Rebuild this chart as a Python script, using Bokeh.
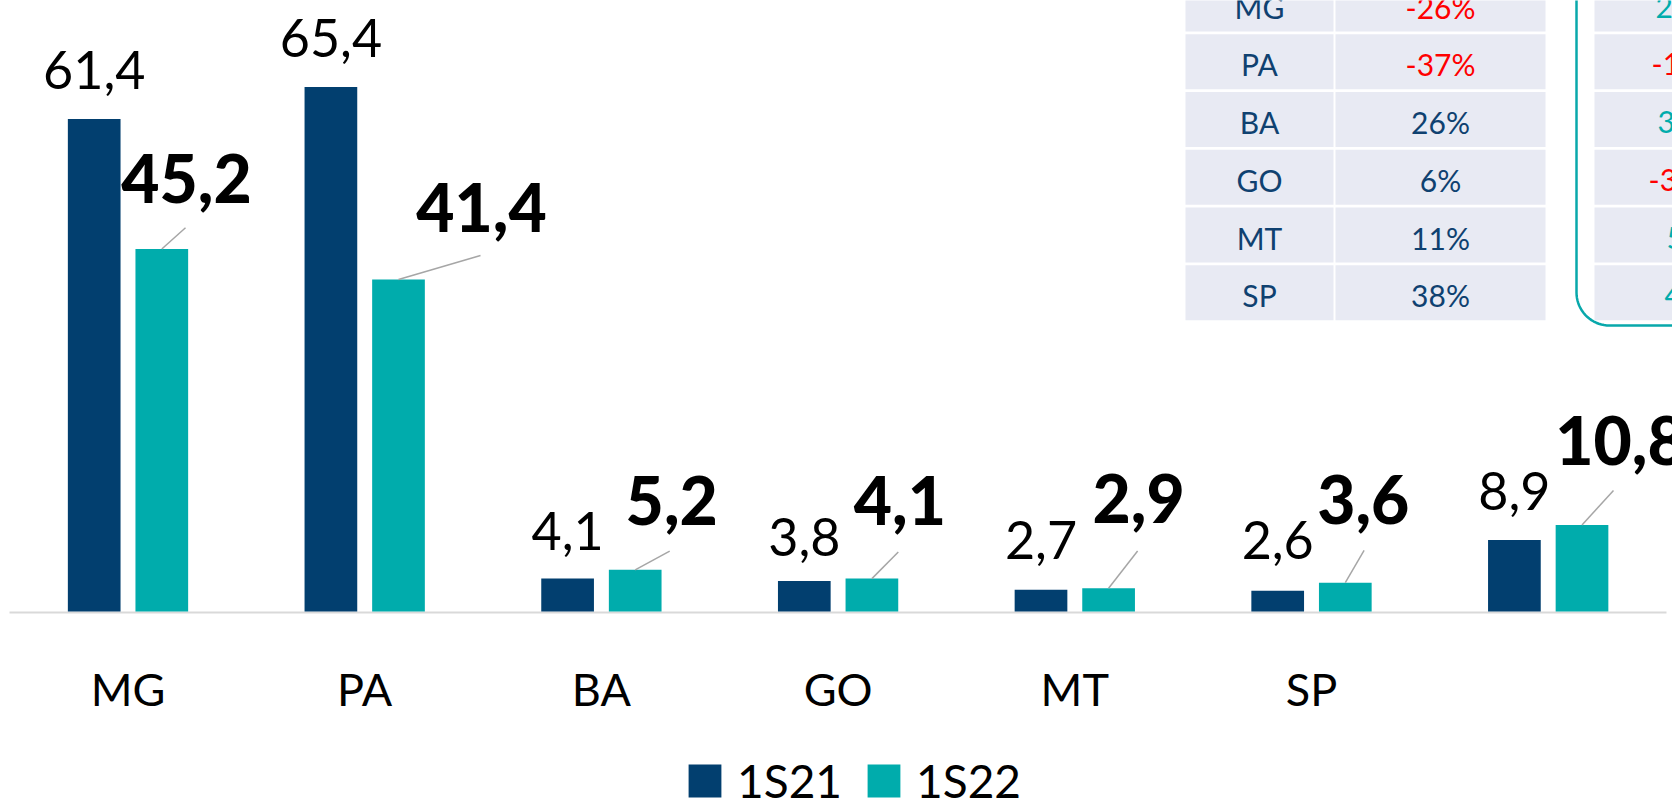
import numpy as np
from bokeh.plotting import figure
from bokeh.models import Range1d, ColumnDataSource, Legend, LegendItem
from bokeh.core.properties import value
from bokeh.embed import file_html
from bokeh.resources import INLINE

# ---------------- data ----------------
categories = ["MG", "PA", "BA", "GO", "MT", "SP", ""]
series_names = ["1S21", "1S22"]
s1 = [61.4, 65.4, 4.1, 3.8, 2.7, 2.6, 8.9]
s2 = [45.2, 41.4, 5.2, 4.1, 2.9, 3.6, 10.8]
tbl_states = ["MG", "PA", "BA", "GO", "MT", "SP"]
tbl_var = ["-26%", "-37%", "26%", "6%", "11%", "38%"]
tbl2_var = ["2", "-1", "3", "-3", "5", "4"]  # only the leading characters are visible

# ---------------- styles / layout ----------------
FONT = "Lato"
BOLD_FONT = "Lato Black, Lato"
C1 = "#023f6f"
C2 = "#00acac"
NAVY_TXT = "#0f4170"
RED = "#ff0000"
CELL = "#e8eaf3"
W, H = 1672, 799
GP = 236.7        # px per category
X0 = 127.5        # page x of first category centre
Y0 = 611.0        # page y of value 0
PPU = 8.02        # px per unit
BAR_W = 0.2226
OFF = 0.1428
BL = 0.36         # baseline correction (fraction of font size)

SZ_REG, SZ_BOLD, SZ_CAT, SZ_TBL = 52, 66, 45, 30

dark_up = [30, 30.7, 29, 25.3, 31, 31.7, 30]
lab_dx = [24.7, 83, 36.5, 28, 30, 18, 38.5]
lab_up = [46.3, 48, 45.7, 54.3, 65.7, 59, 60.3]
lead_dx = [23.7, 82, 34.5, 26.4, 29, 18.8, 31.5]
lead_up = [21.3, 24, 18.7, 26.7, 37.3, 32.3, 34.3]

p = figure(width=W, height=H,
           x_range=Range1d((0 - X0) / GP, (W - X0) / GP),
           y_range=Range1d((Y0 - H) / PPU, (Y0 - 0) / PPU),
           output_backend="svg", toolbar_location=None, min_border=0,
           x_axis_location=None, y_axis_location=None,
           outline_line_color=None)
p.grid.visible = False
p.extra_x_ranges = {"px": Range1d(0, W)}
p.extra_y_ranges = {"px": Range1d(H, 0)}

idx = np.arange(len(categories))
x1 = idx - OFF
x2 = idx + OFF
fmt = lambda v: f"{v:.1f}".replace(".", ",")

src = ColumnDataSource(dict(
    x1=x1, x2=x2, s1=s1, s2=s2,
    l1=[fmt(v) for v in s1], l2=[fmt(v) for v in s2],
    d1=[-u - BL * SZ_REG for u in dark_up],
    ldx=lab_dx, lup=[-u - BL * SZ_BOLD for u in lab_up],
    ex=x2 + np.array(lead_dx) / GP, ey=np.array(s2) + np.array(lead_up) / PPU,
))

# axis baseline
p.segment(x0=[9], y0=[612], x1=[1666], y1=[612], x_range_name="px", y_range_name="px",
          line_color="#d9d9d9", line_width=2)

r1 = p.vbar(x="x1", top="s1", bottom=0, width=BAR_W, source=src, fill_color=C1, line_color=None)
r2 = p.vbar(x="x2", top="s2", bottom=0, width=BAR_W, source=src, fill_color=C2, line_color=None)

# leader lines
p.segment(x0="x2", y0="s2", x1="ex", y1="ey", source=src, line_color="#a6a6a6", line_width=1.5)

# value labels
p.text(x="x1", y="s1", text="l1", y_offset="d1", source=src, text_align="center",
       text_baseline="alphabetic", text_font=value(FONT), text_font_size=f"{SZ_REG}px",
       text_color="black")
p.text(x="x2", y="s2", text="l2", x_offset="ldx", y_offset="lup", source=src, text_align="center",
       text_baseline="alphabetic", text_font=value(BOLD_FONT), text_font_size=f"{SZ_BOLD}px",
       text_font_style="bold", text_color="black")

# category labels
p.text(x=list(idx), y=[705 - BL * SZ_CAT] * len(idx), text=categories, y_range_name="px",
       text_align="center", text_baseline="alphabetic", text_font=value(FONT),
       text_font_size=f"{SZ_CAT}px", text_color="black")

# ---------------- table ----------------
row_top = [-24 + 57.75 * i for i in range(len(tbl_states))]
row_bot = [t + 55 for t in row_top]
p.quad(left=[1185] * 6, right=[1333] * 6, top=row_top, bottom=row_bot,
       x_range_name="px", y_range_name="px", fill_color=CELL, line_color=None)
p.quad(left=[1335] * 6, right=[1545] * 6, top=row_top, bottom=row_bot,
       x_range_name="px", y_range_name="px", fill_color=CELL, line_color=None)
p.quad(left=[1594] * 6, right=[1680] * 6, top=row_top, bottom=row_bot,
       x_range_name="px", y_range_name="px", fill_color=CELL, line_color=None)
base = [t + 41 - BL * SZ_TBL for t in row_top]
p.text(x=[1259] * 6, y=base, text=tbl_states, x_range_name="px", y_range_name="px",
       text_align="center", text_baseline="alphabetic", text_font=value(FONT),
       text_font_size=f"{SZ_TBL}px", text_color=NAVY_TXT)
p.text(x=[1440] * 6, y=base, text=tbl_var, x_range_name="px", y_range_name="px",
       text_align="center", text_baseline="alphabetic", text_font=value(FONT),
       text_font_size=f"{SZ_TBL}px",
       text_color=[RED if v.startswith("-") else NAVY_TXT for v in tbl_var])
t2_x = [1655, 1651, 1657, 1648, 1666, 1664]
p.text(x=t2_x, y=base, text=tbl2_var, x_range_name="px", y_range_name="px",
       text_align="left", text_baseline="alphabetic", text_font=value(FONT),
       text_font_size=f"{SZ_TBL}px",
       text_color=[RED if v.startswith("-") else C2 for v in tbl2_var])

# rounded border of second table
r = 33.0
ang = np.linspace(np.pi, np.pi / 2, 20)
bx = [1576.0] + list(1576 + r + r * np.cos(ang)) + [1680.0]
by = [-5.0] + list(325 - r + r * np.sin(ang)) + [325.0]
p.line(x=bx, y=by, x_range_name="px", y_range_name="px", line_color="#08a8ab", line_width=2.5)

# ---------------- legend ----------------
legend = Legend(items=[LegendItem(label=series_names[0], renderers=[r1]),
                       LegendItem(label=series_names[1], renderers=[r2])],
                orientation="horizontal", location=(684, -9),
                glyph_width=41, glyph_height=41, label_height=33,
                label_text_font=FONT, label_text_font_size="46px", label_text_color="black",
                label_standoff=12, spacing=21, padding=0, margin=0,
                border_line_alpha=0, background_fill_alpha=0)
p.add_layout(legend)

open("out.html", "w").write(file_html(p, INLINE))
